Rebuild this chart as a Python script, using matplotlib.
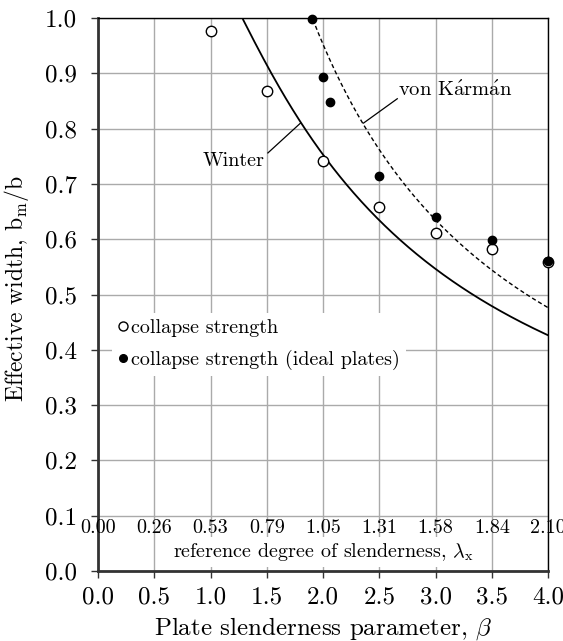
import numpy as np
import matplotlib
matplotlib.use('Agg')
import matplotlib.pyplot as plt
from matplotlib.lines import Line2D

plt.rcParams['font.family'] = 'serif'
plt.rcParams['font.serif'] = ['cmr10']
plt.rcParams['mathtext.fontset'] = 'cm'
plt.rcParams['axes.formatter.use_mathtext'] = True
plt.rcParams['axes.unicode_minus'] = False

# test results
beta_open = [1.0, 1.5, 2.0, 2.5, 3.0, 3.5, 4.0]
eff_open = [0.977, 0.868, 0.742, 0.659, 0.611, 0.583, 0.558]
beta_ideal = [1.9, 2.0, 2.06, 2.5, 3.0, 3.5, 4.0]
eff_ideal = [0.999, 0.894, 0.849, 0.715, 0.640, 0.599, 0.561]

# secondary scale: reference degree of slenderness
beta_ticks = [0.0, 0.5, 1.0, 1.5, 2.0, 2.5, 3.0, 3.5, 4.0]
lam_labels = ['0.00', '0.26', '0.53', '0.79', '1.05', '1.31', '1.58', '1.84', '2.10']

# design curves, lambda = beta / beta_per_lam
beta_per_lam = 1.905
winter_c = 0.22

beta = np.linspace(0.01, 4.0, 400)
lam = beta / beta_per_lam
winter = (1 / lam) * (1 - winter_c / lam)
karman = 1 / lam

fig = plt.figure(figsize=(5.63, 6.41), dpi=100)
ax = fig.add_axes([0.1741, 0.1092, 0.7993, 0.8627])

ax.set_xlim(0, 4)
ax.set_ylim(0, 1)
ax.set_xticks(beta_ticks)
ax.set_yticks(np.arange(0, 1.01, 0.1))
ax.xaxis.set_major_formatter(plt.FormatStrFormatter('%.1f'))
ax.yaxis.set_major_formatter(plt.FormatStrFormatter('%.1f'))
ax.set_axisbelow(True)
ax.grid(True, color='#aaaaaa', lw=1)

m = (winter <= 1.0) & (lam > 2 * winter_c)
ax.plot(beta[m], winter[m], color='black', lw=1.3, zorder=3)
m = karman <= 1.0
ax.plot(beta[m], karman[m], color='black', lw=1.0, ls=(0, (3, 2)), zorder=3)

ax.plot(beta_open, eff_open, 'o', ms=7.5, mfc='white', mec='black', mew=1, zorder=4, clip_on=False)
ax.plot(beta_ideal, eff_ideal, 'o', ms=6, mfc='black', mec='black', zorder=5, clip_on=False)

# curve labels with leaders
ax.text(1.48, 0.742, 'Winter', ha='right', va='center', fontsize=14.5)
ax.plot([1.51, 1.80], [0.756, 0.81], color='black', lw=0.9)
ax.text(2.67, 0.870, r'von K$\mathrm{\acute{a}}$rm$\mathrm{\acute{a}}$n', ha='left', va='center', fontsize=14.8)
ax.plot([2.66, 2.36], [0.854, 0.81], color='black', lw=0.9)

# secondary scale labels
for b, s in zip(beta_ticks, lam_labels):
    ax.text(b, 0.078, s, ha='center', va='center', fontsize=14.5)
ax.text(2.0, 0.034, r'reference degree of slenderness, $\lambda_\mathrm{x}$', ha='center', va='center',
        fontsize=14.5, zorder=3,
        bbox=dict(facecolor='white', edgecolor='none', pad=3))

handles = [
    Line2D([], [], ls='none', marker='o', ms=6.5, mfc='white', mec='black', mew=1),
    Line2D([], [], ls='none', marker='o', ms=5.5, mfc='black', mec='black'),
]
leg = ax.legend(handles, ['collapse strength', 'collapse strength (ideal plates)'],
                loc='upper left', bbox_to_anchor=(0.12, 0.466), bbox_transform=ax.transData,
                fontsize=14.5, frameon=True, fancybox=False, framealpha=1, edgecolor='none',
                handlelength=0.5, handletextpad=0.15, labelspacing=0.6, borderpad=0.3,
                borderaxespad=0)

for side in ['left', 'bottom']:
    ax.spines[side].set_color('#333333')
    ax.spines[side].set_linewidth(2)
for side in ['top', 'right']:
    ax.spines[side].set_color('black')
    ax.spines[side].set_linewidth(1)
ax.tick_params(axis='both', direction='out', length=5, width=1, color='#333333', labelsize=18)
ax.tick_params(axis='x', pad=6)
ax.tick_params(axis='y', pad=10)

ax.set_xlabel(r'Plate slenderness parameter, $\beta$', fontsize=18, labelpad=5)
ax.set_ylabel(r'Effective width, b$_\mathrm{m}$/b', fontsize=17)
ax.yaxis.set_label_coords(-0.15, 0.51)

fig.savefig('out.png', dpi=100)
